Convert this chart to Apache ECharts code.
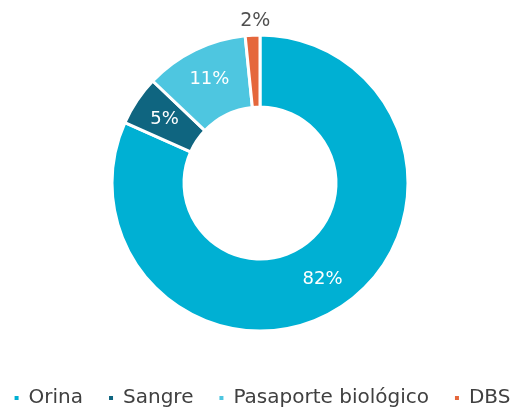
<!DOCTYPE html>
<html>
    <head>
        <meta charset="utf-8">
        <script src="https://cdn.jsdelivr.net/npm/echarts@6/dist/echarts.min.js"></script>
        <style>
            html, body { margin: 0; padding: 0; background: #fff; }
            #main { width: 523px; height: 411px; }
        </style>
    </head>
    <body>
        <div id="main"></div>
        <script>
            // sample types and their share (%)
            var categories = ['Orina', 'Sangre', 'Pasaporte biológico', 'DBS'];
            var values = [81.7, 5.4, 11.3, 1.6];
            var colors = ['#00b0d3', '#0f6580', '#4ec6e0', '#e5673c'];

            var chart = echarts.init(document.getElementById('main'));

            var data = categories.map(function (name, i) {
                var item = { name: name, value: values[i], itemStyle: { color: colors[i] } };
                if (name === 'DBS') {
                    item.label = {
                        position: 'outside',
                        color: '#505050',
                        fontSize: 19,
                        distanceToLabelLine: 0
                    };
                    item.labelLine = { show: false, length: 4, length2: 0 };
                }
                return item;
            });

            var option = {
                animation: false,
                legend: {
                    bottom: 3,
                    left: 'center',
                    padding: 0,
                    icon: 'rect',
                    itemWidth: 6,
                    itemHeight: 6,
                    itemGap: 24,
                    textStyle: {
                        fontFamily: 'DejaVu Sans',
                        fontSize: 20,
                        color: '#404040',
                        padding: [0, 0, 0, 4]
                    },
                    data: categories
                },
                series: [{
                    type: 'pie',
                    center: [260, 183],
                    radius: [76, 148],
                    startAngle: 90,
                    clockwise: true,
                    avoidLabelOverlap: false,
                    itemStyle: { borderColor: '#fff', borderWidth: 3 },
                    label: {
                        position: 'inside',
                        color: '#fff',
                        fontFamily: 'DejaVu Sans',
                        fontSize: 18,
                        formatter: function (p) {
                            return Math.round(p.percent) + '%';
                        }
                    },
                    labelLayout: function (p) {
                        // nudge the small DBS label so it sits above its slice
                        if (p.dataIndex === 3) {
                            return { dx: 18, dy: -10 };
                        }
                    },
                    data: data
                }]
            };

            chart.setOption(option);
        </script>
    </body>
</html>
